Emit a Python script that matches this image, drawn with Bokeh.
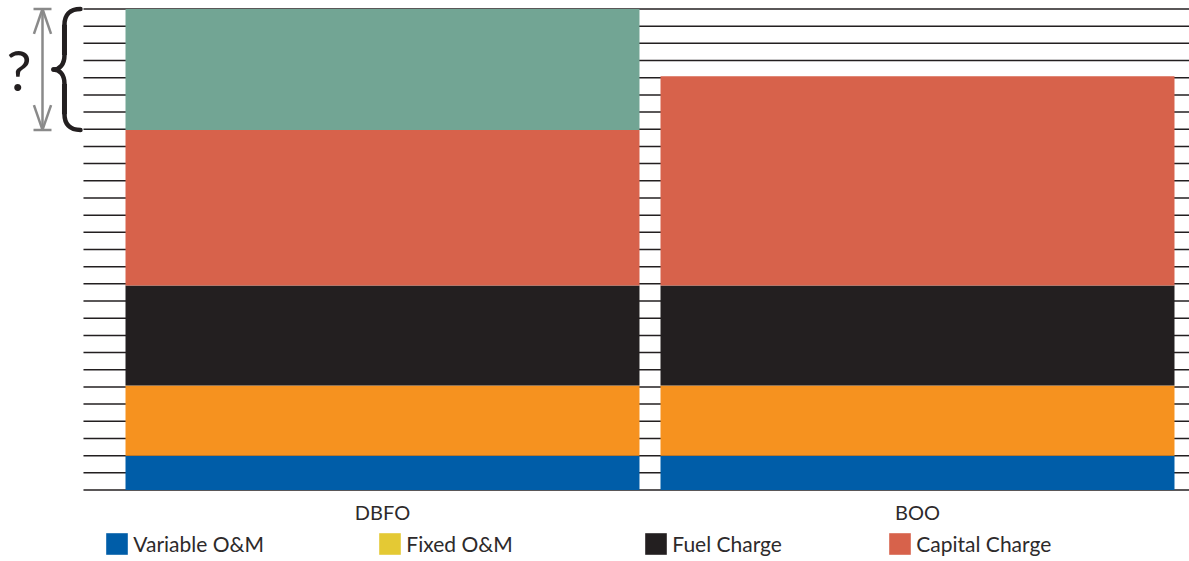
from bokeh.plotting import figure
from bokeh.models import ColumnDataSource, Range1d, FixedTicker, Legend, LegendItem
from bokeh.core.properties import value
from bokeh.embed import file_html
from bokeh.resources import INLINE

# ---------------- data ----------------
categories = ["DBFO", "BOO"]
variable_om = [2.0, 2.0]
fixed_om = [4.08, 4.08]
fuel_charge = [5.82, 5.82]
capital_charge = [9.06, 12.18]
unknown_gap = [7.04, 0.0]
grid_levels = list(range(0, 29))

legend_labels = ["Variable O&M", "Fixed O&M", "Fuel Charge", "Capital Charge"]
legend_colors = ["#005da8", "#e4c934", "#231f20", "#d7624b"]
stack_names = ["variable_om", "fixed_om", "fuel_charge", "capital_charge", "unknown_gap"]
stack_colors = ["#005da8", "#f6921f", "#231f20", "#d7624b", "#72a594"]

FONT = "Lato"
TEXT_COLOR = "#2d2a2b"

# ---------------- figure ----------------
x_start, x_end = -0.7140, 1.5084
p = figure(
    width=1189, height=561,
    x_range=Range1d(x_start, x_end), y_range=Range1d(-4.162, 28.495),
    y_axis_location=None,
    min_border_left=0, min_border_right=0, min_border_top=0, min_border_bottom=0,
    output_backend="svg", toolbar_location=None,
)
p.outline_line_color = None
p.xgrid.visible = False
p.ygrid.visible = False
p.background_fill_color = "white"
p.border_fill_color = "white"

# horizontal rule lines behind the bars
grid_left = -0.5589
p.segment(x0=[grid_left] * len(grid_levels), y0=grid_levels,
          x1=[x_end] * len(grid_levels), y1=grid_levels,
          line_color="#231f20", line_width=1.5)

# stacked bars
xs = list(range(len(categories)))
source = ColumnDataSource(dict(x=xs, variable_om=variable_om, fixed_om=fixed_om,
                               fuel_charge=fuel_charge, capital_charge=capital_charge,
                               unknown_gap=unknown_gap))
p.vbar_stack(stack_names, x="x", width=0.9607, color=stack_colors,
             line_color=None, source=source)

# x axis with category labels, pinned at y = 0
ax = p.xaxis[0]
ax.fixed_location = 0
ax.ticker = FixedTicker(ticks=xs)
ax.major_label_overrides = {i: c for i, c in enumerate(categories)}
ax.axis_line_color = None
ax.major_tick_line_color = None
ax.minor_tick_line_color = None
ax.major_tick_out = 0
ax.major_tick_in = 0
ax.major_label_standoff = 10
ax.major_label_text_font = FONT
ax.major_label_text_font_size = "20px"
ax.major_label_text_color = TEXT_COLOR

# ---------------- "?" annotation on the DBFO gap ----------------
gap_bottom = variable_om[0] + fixed_om[0] + fuel_charge[0] + capital_charge[0]
gap_top = gap_bottom + unknown_gap[0]
gap_mid = (gap_top + gap_bottom) / 2
h = gap_top - gap_bottom

# double arrow with end caps
xa = -0.6355
cap = 0.0168
head_w, head_l = 0.016, 1.45
gray = "#8a8a8a"
p.segment(x0=[xa], y0=[gap_bottom], x1=[xa], y1=[gap_top], line_color=gray, line_width=2.5)
p.segment(x0=[xa - cap, xa - cap], y0=[gap_top, gap_bottom],
          x1=[xa + cap, xa + cap], y1=[gap_top, gap_bottom], line_color=gray, line_width=2.5)
p.segment(x0=[xa, xa, xa, xa],
          y0=[gap_top, gap_top, gap_bottom, gap_bottom],
          x1=[xa - head_w, xa + head_w, xa - head_w, xa + head_w],
          y1=[gap_top - head_l, gap_top - head_l, gap_bottom + head_l, gap_bottom + head_l],
          line_color=gray, line_width=2.5)

# curly brace
bx_end, bx_c, bx_mid, bx_c2, bx_tip = -0.5645, -0.5850, -0.5944, -0.6037, -0.6150
k1, k2, k3 = 0.13 * h, 0.05 * h, 0.12 * h
p.bezier(
    x0=[bx_end, bx_mid, bx_end, bx_mid],
    y0=[gap_top, gap_mid + k3, gap_bottom, gap_mid - k3],
    x1=[bx_mid, bx_tip, bx_mid, bx_tip],
    y1=[gap_top - k1, gap_mid, gap_bottom + k1, gap_mid],
    cx0=[bx_c, bx_mid, bx_c, bx_mid],
    cy0=[gap_top, gap_mid + 0.04 * h, gap_bottom, gap_mid - 0.04 * h],
    cx1=[bx_mid, bx_c2, bx_mid, bx_c2],
    cy1=[gap_top - k2, gap_mid, gap_bottom + k2, gap_mid],
    line_color="#231f20", line_width=4.5, line_cap="round",
)
p.segment(x0=[bx_mid, bx_mid], y0=[gap_top - k1, gap_bottom + k1],
          x1=[bx_mid, bx_mid], y1=[gap_mid + k3, gap_mid - k3],
          line_color="#231f20", line_width=5)

p.text(x=[-0.6794], y=[gap_mid], text=["?"], text_font=value(FONT),
       text_font_size="56px", text_align="center", text_baseline="middle",
       text_color="#231f20")

# ---------------- legend (one block per entry) ----------------
legend_x = [103.3, 376.3, 642.3, 886.3]
for lbl, col, lx in zip(legend_labels, legend_colors, legend_x):
    # proxy renderer placed outside the visible range; only used for the legend swatch
    r = p.vbar(x=[10.0], top=[0.0], width=0.1, fill_color=col, line_color=None)
    lg = Legend(items=[LegendItem(label=lbl, renderers=[r])],
                location=(lx, 3.7), orientation="horizontal",
                padding=0, margin=0, spacing=0,
                glyph_width=27, glyph_height=27, label_standoff=3,
                label_height=27,
                label_text_font=FONT, label_text_font_size="21px",
                label_text_color=TEXT_COLOR,
                border_line_color=None, background_fill_alpha=0)
    p.add_layout(lg)

open("out.html", "w").write(file_html(p, INLINE))
